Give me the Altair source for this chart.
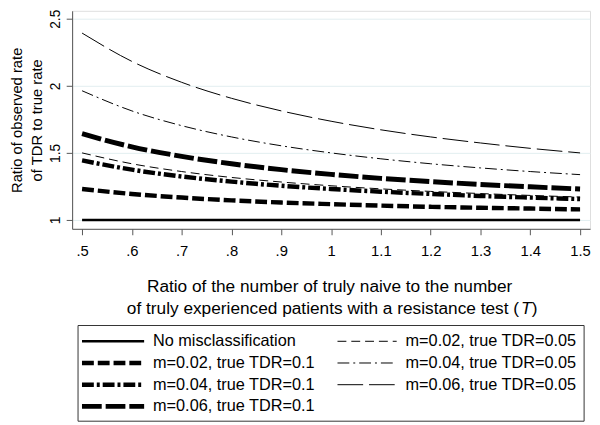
import altair as alt
import pandas as pd

# ---- data ----
T_values = [0.5, 0.6, 0.7, 0.8, 0.9, 1.0, 1.1, 1.2, 1.3, 1.4, 1.5]

no_misclass     = [1.0, 1.0, 1.0, 1.0, 1.0, 1.0, 1.0, 1.0, 1.0, 1.0, 1.0]
m002_tdr005     = [1.500, 1.419, 1.361, 1.317, 1.283, 1.255, 1.232, 1.213, 1.197, 1.183, 1.171]
m004_tdr005     = [1.963, 1.813, 1.703, 1.619, 1.553, 1.500, 1.456, 1.419, 1.388, 1.361, 1.338]
m006_tdr005     = [2.393, 2.182, 2.026, 1.907, 1.813, 1.736, 1.672, 1.619, 1.574, 1.534, 1.500]
m002_tdr01      = [1.231, 1.194, 1.167, 1.146, 1.130, 1.118, 1.107, 1.098, 1.091, 1.085, 1.079]
m004_tdr01      = [1.444, 1.375, 1.324, 1.286, 1.255, 1.231, 1.211, 1.194, 1.179, 1.167, 1.156]
m006_tdr01      = [1.643, 1.545, 1.474, 1.419, 1.375, 1.340, 1.310, 1.286, 1.265, 1.247, 1.231]

# legend order (row-major, two columns)
series_names = [
    "No misclassification",
    "m=0.02, true TDR=0.05",
    "m=0.02, true TDR=0.1",
    "m=0.04, true TDR=0.05",
    "m=0.04, true TDR=0.1",
    "m=0.06, true TDR=0.05",
    "m=0.06, true TDR=0.1",
]
series_values = [no_misclass, m002_tdr005, m002_tdr01, m004_tdr005,
                 m004_tdr01, m006_tdr005, m006_tdr01]

x_ticks = [0.5, 0.6, 0.7, 0.8, 0.9, 1.0, 1.1, 1.2, 1.3, 1.4, 1.5]
y_ticks = [1, 1.5, 2, 2.5]

y_title = ["Ratio of observed rate", "of TDR to true rate"]
x_title_1 = "Ratio of the number of truly naive to the number"
x_title_2a = "of truly experienced patients with a resistance test ("
x_title_2b = "T"
x_title_2c = ")"

# ---- styles ----
dashes = [[1, 0], [9, 5], [12, 4], [12, 4, 2, 4], [12, 3, 3, 3], [26, 6], [20, 4]]
widths = [2.5, 1, 4.5, 1, 4.5, 1, 5]

FONT = "Liberation Sans"

x_enc = alt.X("T:Q", scale=alt.Scale(domain=[0.48, 1.52], nice=False, zero=False),
              axis=alt.Axis(values=x_ticks, title=None, grid=False,
                            labelExpr="datum.value < 1 ? substring(format(datum.value, '.1f'), 1) : format(datum.value, '.1~f')",
                            labelFont=FONT, labelFontSize=15, labelColor="black",
                            tickSize=6, labelPadding=9, labelBaseline="top",
                            domainColor="#555555", tickColor="#555555"))
y_enc = alt.Y("ratio:Q", scale=alt.Scale(domain=[0.934, 2.559], nice=False, zero=False),
              axis=alt.Axis(values=y_ticks, format="~g", title=y_title, grid=True,
                            gridColor="#e2eef0", gridWidth=1,
                            labelAngle=270, labelAlign="center", labelBaseline="alphabetic",
                            labelFont=FONT, labelFontSize=14, labelColor="black",
                            tickSize=6, labelPadding=7,
                            domainColor="#555555", tickColor="#555555",
                            titleFont=FONT, titleFontSize=15, titleFontWeight="normal",
                            titleColor="black", titleAngle=270, titleAlign="center",
                            titleBaseline="alphabetic", titleLineHeight=20,
                            titleX=-51, titleY=110.5))

layers = []
for name, vals, dash, w in zip(series_names, series_values, dashes, widths):
    d = pd.DataFrame({"T": T_values, "ratio": vals, "series": name})
    layers.append(
        alt.Chart(d).mark_line(color="black", interpolate="monotone",
                               strokeDash=dash, strokeWidth=w)
        .encode(x=x_enc, y=y_enc)
    )

# ---- x-axis title (two lines, italic T) ----
def text_layer(txt, x, y, align, size=17.5, style="normal"):
    return alt.Chart(pd.DataFrame({"t": [txt]})).mark_text(
        font=FONT, fontSize=size, align=align, baseline="alphabetic",
        color="black", fontStyle=style
    ).encode(x=alt.value(x), y=alt.value(y), text="t:N")

layers.append(text_layer(x_title_1, 261, 285, "center"))
layers.append(text_layer(x_title_2a, 453, 307, "right"))
layers.append(text_layer(x_title_2b, 455, 307, "left", style="italic"))
layers.append(text_layer(x_title_2c, 466, 307, "left"))

# ---- legend (boxed, two columns, row-major) ----
box = alt.Chart(pd.DataFrame({"k": [0]})).mark_rect(
    fill="white", stroke="#333333", strokeWidth=1
).encode(x=alt.value(6), x2=alt.value(519), y=alt.value(319), y2=alt.value(416))
layers.append(box)

col_sym = [(10, 73, 82), (269, 329, 338)]
row_y = [335, 357, 379, 401]
for i, (name, dash, w) in enumerate(zip(series_names, dashes, widths)):
    r, c = i // 2, i % 2
    sx1, sx2, tx = col_sym[c]
    yy = row_y[r]
    sw = alt.Chart(pd.DataFrame({"k": [name]})).mark_rule(
        color="black", strokeDash=dash, strokeWidth=w
    ).encode(x=alt.value(sx1), x2=alt.value(sx2), y=alt.value(yy))
    lab = alt.Chart(pd.DataFrame({"t": [name]})).mark_text(
        font=FONT, fontSize=16.5, align="left", baseline="middle", color="black"
    ).encode(x=alt.value(tx), y=alt.value(yy), text="t:N")
    layers += [sw, lab]

chart = alt.layer(*layers).properties(
    width=525, height=221,
    autosize=alt.AutoSizeParams(type="none"),
    padding={"left": 65, "top": 0, "right": 2, "bottom": 196},
).configure_view(stroke=None).configure(background="white")

chart.save("out.html", embed_options={"renderer": "svg", "actions": False})
